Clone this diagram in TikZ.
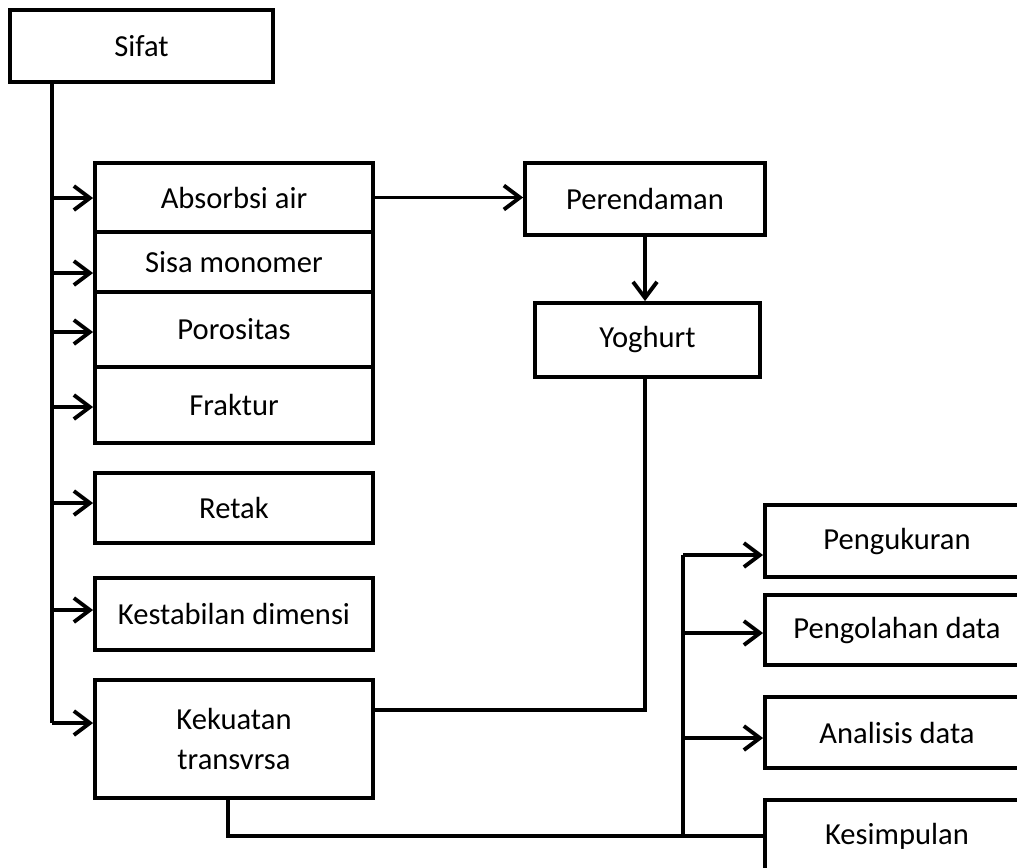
\documentclass[tikz,border=0pt]{standalone}
\usepackage{fontspec}
\setmainfont{Carlito}
\usetikzlibrary{arrows.meta,calc,positioning}
\tikzset{
  box/.style   = {draw, line width=2.2pt, fill=white, minimum width=5.56cm,
                  minimum height=1.4cm, align=center, inner sep=2pt,
                  font=\fontsize{17.4}{23}\selectfont},
  wire/.style  = {line width=2.2pt},
  arr/.style   = {-{Straight Barb[length=3.2mm,width=4.8mm,line width=2.2pt]}, line width=2.2pt},
}

\begin{document}
\begin{tikzpicture}[x=0.02cm,y=-0.02cm]
  \useasboundingbox (0,0) rectangle (1017,867);
  \clip (0,0) rectangle (1017,867);
  % left column
  \node[box, minimum width=5.26cm, minimum height=1.44cm] (sifat) at (141.5,46) {Sifat};
  \node[box, minimum height=1.38cm] (absorbsi)   at (234,197.5) {Absorbsi air};
  \node[box, minimum height=1.2cm]  (sisa)       at (234,262)   {Sisa monomer};
  \node[box, minimum height=1.5cm]  (porositas)  at (234,329.5) {Porositas};
  \node[box, minimum height=1.52cm] (fraktur)    at (234,405)   {Fraktur};
  \node[box, minimum height=1.4cm]  (retak)      at (234,508)   {Retak};
  \node[box, minimum height=1.44cm] (kestabilan) at (234,614)   {Kestabilan dimensi};
  \node[box, minimum height=2.36cm] (kekuatan)   at (234,739)   {Kekuatan\\transvrsa};
  % middle column
  \node[box, minimum width=4.8cm, minimum height=1.44cm] (perendaman) at (645,199)   {Perendaman};
  \node[box, minimum width=4.5cm, minimum height=1.48cm] (yoghurt)    at (647.5,340) {Yoghurt};
  % right column
  \node[box, minimum width=5.28cm, minimum height=1.44cm] (pengukuran) at (897,541)   {Pengukuran};
  \node[box, minimum width=5.28cm, minimum height=1.4cm]  (pengolahan) at (897,630)   {Pengolahan data};
  \node[box, minimum width=5.28cm, minimum height=1.42cm] (analisis)   at (897,732.5) {Analisis data};
  \node[box, minimum width=5.28cm, minimum height=1.44cm] (kesimpulan) at (897,836)   {Kesimpulan};

  % trunk from Sifat
  \foreach \n/\y in {absorbsi/198, sisa/273, porositas/332, fraktur/407,
                     retak/503, kestabilan/610, kekuatan/723}{
    \coordinate (t\n) at (52,\y);
    \draw[arr] (t\n) -- (t\n -| \n.west);
  }
  \draw[wire] (tkekuatan |- sifat.south) -- (tkekuatan);

  \draw[arr] (absorbsi.east) -- (absorbsi.east -| perendaman.west);
  \draw[arr] (perendaman.south) -- (perendaman.south |- yoghurt.north);
  \draw[wire] (yoghurt.south -| perendaman.south) |- ($(kekuatan.east)+(0,-29)$);

  % to the last steps
  \draw[wire] ($(kekuatan.south)+(-6,0)$) |- (kesimpulan.west);
  \foreach \n/\y in {pengukuran/555, pengolahan/633, analisis/738}{
    \coordinate (b\n) at (683,\y);
    \draw[arr] (b\n) -- (b\n -| \n.west);
  }
  \draw[wire] (bpengukuran) -- (bpengukuran |- kesimpulan.west);
\end{tikzpicture}
\end{document}
